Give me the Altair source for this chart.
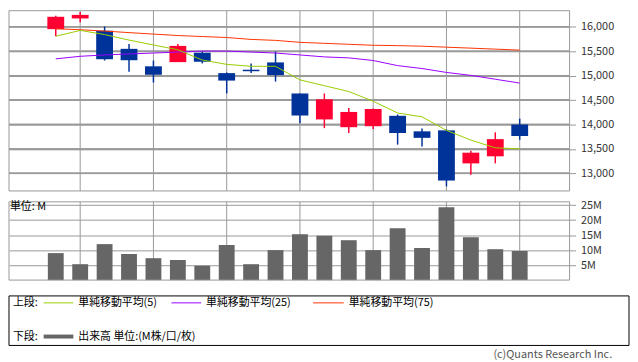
import json
import altair as alt
import pandas as pd

# ---------------- data ----------------
dates = ['2022/1/4', '2022/1/5', '2022/1/6', '2022/1/7', '2022/1/11', '2022/1/12',
         '2022/1/13', '2022/1/14', '2022/1/17', '2022/1/18', '2022/1/19', '2022/1/20',
         '2022/1/21', '2022/1/24', '2022/1/25', '2022/1/26', '2022/1/27', '2022/1/28',
         '2022/1/31', '2022/2/1']
opens = [15952, 16171, 15920, 15549, 15191, 15277, 15469, 15052, 15106, 15271,
         14635, 14104, 13945, 13965, 14178, 13860, 13880, 13204, 13349, 14000]
highs = [16225, 16304, 16006, 15648, 15310, 15648, 15495, 15066, 15251, 15495,
         14635, 14635, 14337, 14330, 14204, 13920, 13900, 13463, 13840, 14119]
lows = [15807, 16091, 15310, 15078, 14859, 15277, 15251, 14635, 15052, 14879,
        14025, 13926, 13827, 13906, 13588, 13548, 12733, 12972, 13204, 13687]
closes = [16205, 16244, 15336, 15316, 15018, 15609, 15285, 14899, 15106, 15012,
          14184, 14516, 14257, 14317, 13826, 13727, 12853, 13423, 13701, 13767]
ma5 = [15807, 15926, 15841, 15728, 15628, 15529, 15320, 15231, 15191, 15191,
       14913, 14794, 14675, 14476, 14236, 14157, 13880, 13681, 13522, 13502]
ma25 = [15344, 15396, 15424, 15444, 15463, 15483, 15503, 15503, 15483, 15463,
        15424, 15384, 15364, 15310, 15205, 15146, 15066, 15006, 14927, 14848]
ma75 = [15960, 15940, 15913, 15881, 15851, 15821, 15801, 15781, 15742, 15722,
        15682, 15662, 15642, 15622, 15615, 15603, 15583, 15563, 15543, 15523]
volume_m = [9.0, 5.3, 12.0, 8.7, 7.3, 6.7, 4.8, 11.7, 5.3, 10.0,
            15.3, 14.8, 13.3, 10.0, 17.3, 10.7, 24.3, 14.3, 10.3, 9.7]

label_dates = ['2022/1/5', '2022/1/11', '2022/1/14', '2022/1/19', '2022/1/24', '2022/1/27', '2022/2/1']
price_ticks = [13000, 13500, 14000, 14500, 15000, 15500, 16000]
volume_ticks = [5, 10, 15, 20, 25]

upper_label = '上段:'
lower_label = '下段:'
ma_names = ['単純移動平均(5)', '単純移動平均(25)', '単純移動平均(75)']
volume_name = '出来高 単位:(M株/口/枚)'
unit_label = '単位: M'
copyright_text = '(c)Quants Research Inc.'

# ---------------- tables ----------------
df = pd.DataFrame({'i': list(range(len(dates))), 'date': dates, 'open': opens, 'high': highs,
                   'low': lows, 'close': closes, 'ma5': ma5, 'ma25': ma25, 'ma75': ma75,
                   'vol': volume_m,
                   'gp': price_ticks + [None] * (len(dates) - len(price_ticks))})
grid_df = pd.DataFrame({'i': [dates.index(d) for d in label_dates]})
pgrid_df = pd.DataFrame({'p': price_ticks})
one = pd.DataFrame({'k': [0]})

FONT = 'Noto Sans CJK JP'
RED = '#ff0033'
BLUE = '#003399'
GRID = '#999999'
C5, C25, C75 = '#99cc00', '#9900ff', '#ff3300'

W, H = 566, 272
P_TOP, P_BOT = 0, 182
V_TOP, V_BOT = 193, 272
X_DOMAIN = [-1.713, 20.84]

xs = alt.Scale(domain=X_DOMAIN, nice=False, zero=False)
ps = alt.Scale(domain=[12640, 16330], range=[P_BOT, P_TOP], nice=False, zero=False)
vs = alt.Scale(domain=[0, 26.1], range=[V_BOT, V_TOP], nice=False, zero=True)

X = lambda f: alt.X(f, scale=xs, axis=None)

base = alt.Chart(df).transform_calculate(
    col=f"datum.close > datum.open ? '{RED}' : '{BLUE}'")

# frames and grid
vgrid_p = alt.Chart(grid_df).mark_rule(color=GRID, strokeWidth=1).encode(
    x=X('i:Q'), y=alt.value(P_TOP), y2=alt.value(P_BOT))
vgrid_v = alt.Chart(grid_df).mark_rule(color=GRID, strokeWidth=1).encode(
    x=X('i:Q'), y=alt.value(V_TOP), y2=alt.value(V_BOT))
hgrid_a = alt.Chart(pgrid_df).mark_rule(color=GRID, strokeWidth=1.5).encode(
    y=alt.Y('p:Q', scale=ps, axis=None), x=alt.value(0), x2=alt.value(W))
hgrid_b = alt.Chart(df).transform_filter('isValid(datum.gp)').mark_rule(
    color=GRID, strokeWidth=1.5).encode(
    y=alt.Y('gp:Q', scale=ps, axis=None), x=alt.value(0), x2=alt.value(W))
frame_p = alt.Chart(one).mark_rect(fillOpacity=0, stroke=GRID, strokeWidth=1).encode(
    x=alt.value(0), x2=alt.value(W), y=alt.value(P_TOP), y2=alt.value(P_BOT))
frame_v = alt.Chart(one).mark_rect(fillOpacity=0, stroke=GRID, strokeWidth=1).encode(
    x=alt.value(0), x2=alt.value(W), y=alt.value(V_TOP), y2=alt.value(V_BOT))

AXIS_STYLE = dict(gridColor=GRID, tickColor=GRID, tickSize=6, labelPadding=5,
                  domain=False, labelFontSize=11, labelFont=FONT, labelColor='#333333',
                  title=None)

# volume bars with axes
xaxis = alt.Axis(values=[dates.index(d) for d in label_dates],
                 labelExpr=json.dumps(dates) + '[round(datum.value)]',
                 ticks=False, domain=False, grid=False, labelFontSize=11,
                 labelFont=FONT, labelColor='#333333', labelPadding=4, title=None)
vol = alt.Chart(df).mark_bar(size=16, color='#666666').encode(
    x=alt.X('i:Q', scale=xs, axis=xaxis),
    y=alt.Y('vol:Q', scale=vs, axis=alt.Axis(
        orient='right', values=volume_ticks, labelExpr="datum.value + 'M'", grid=True,
        **AXIS_STYLE)),
    y2=alt.datum(0))

# candles
wick = base.mark_rule(strokeWidth=1.5).encode(
    x=X('i:Q'), y=alt.Y('low:Q', scale=ps, axis=None), y2='high:Q',
    color=alt.Color('col:N', scale=None))
body = base.mark_bar(size=17).encode(
    x=X('i:Q'),
    y=alt.Y('open:Q', scale=ps, axis=alt.Axis(
        orient='right', values=price_ticks, format=',d', grid=True, **AXIS_STYLE)),
    y2='close:Q', color=alt.Color('col:N', scale=None))
doji = base.transform_filter('datum.open == datum.close').transform_calculate(
    xa='datum.i - 0.34', xb='datum.i + 0.34').mark_rule(strokeWidth=1.5).encode(
    x=X('xa:Q'), x2='xb:Q', y=alt.Y('open:Q', scale=ps, axis=None),
    color=alt.Color('col:N', scale=None))

def ma_line(field, color):
    return alt.Chart(df).mark_line(color=color, strokeWidth=1).encode(
        x=X('i:Q'), y=alt.Y(f'{field}:Q', scale=ps, axis=None))

l75 = ma_line('ma75', C75)
l25 = ma_line('ma25', C25)
l5 = ma_line('ma5', C5)

# legend and notes (pixel positions)
def txt(s, x, y, align='left', color='#000000', size=11):
    return alt.Chart(one).mark_text(text=s, align=align, baseline='middle', font=FONT,
                                    fontSize=size, color=color).encode(
        x=alt.value(x), y=alt.value(y))

def seg(x1, x2, y, color, w):
    return alt.Chart(one).mark_rule(color=color, strokeWidth=w).encode(
        x=alt.value(x1), x2=alt.value(x2), y=alt.value(y))

box = alt.Chart(one).mark_rect(fillOpacity=0, stroke='#000000', strokeWidth=1).encode(
    x=alt.value(0), x2=alt.value(626), y=alt.value(288), y2=alt.value(338))

legend = [
    box,
    txt(upper_label, 4, 295),
    seg(35, 65, 295, C5, 1), txt(ma_names[0], 70, 295),
    seg(164, 194, 295, C25, 1), txt(ma_names[1], 199, 295),
    seg(307, 338, 295, C75, 1), txt(ma_names[2], 343, 295),
    txt(lower_label, 4, 329),
    seg(35, 65, 329, '#666666', 4), txt(volume_name, 70, 329),
    txt(copyright_text, 609, 348, align='right', color='#555555'),
    txt(unit_label, 1, 198),
]

chart = alt.layer(
    hgrid_a, hgrid_b, vgrid_p, vgrid_v, vol, wick, body, doji, l75, l25, l5,
    frame_p, frame_v, *legend
).resolve_scale(y='independent').properties(
    width=W, height=H, padding=0, background='white'
).configure_view(stroke=None)

chart.save("out.html", embed_options={"renderer": "svg", "actions": False})
